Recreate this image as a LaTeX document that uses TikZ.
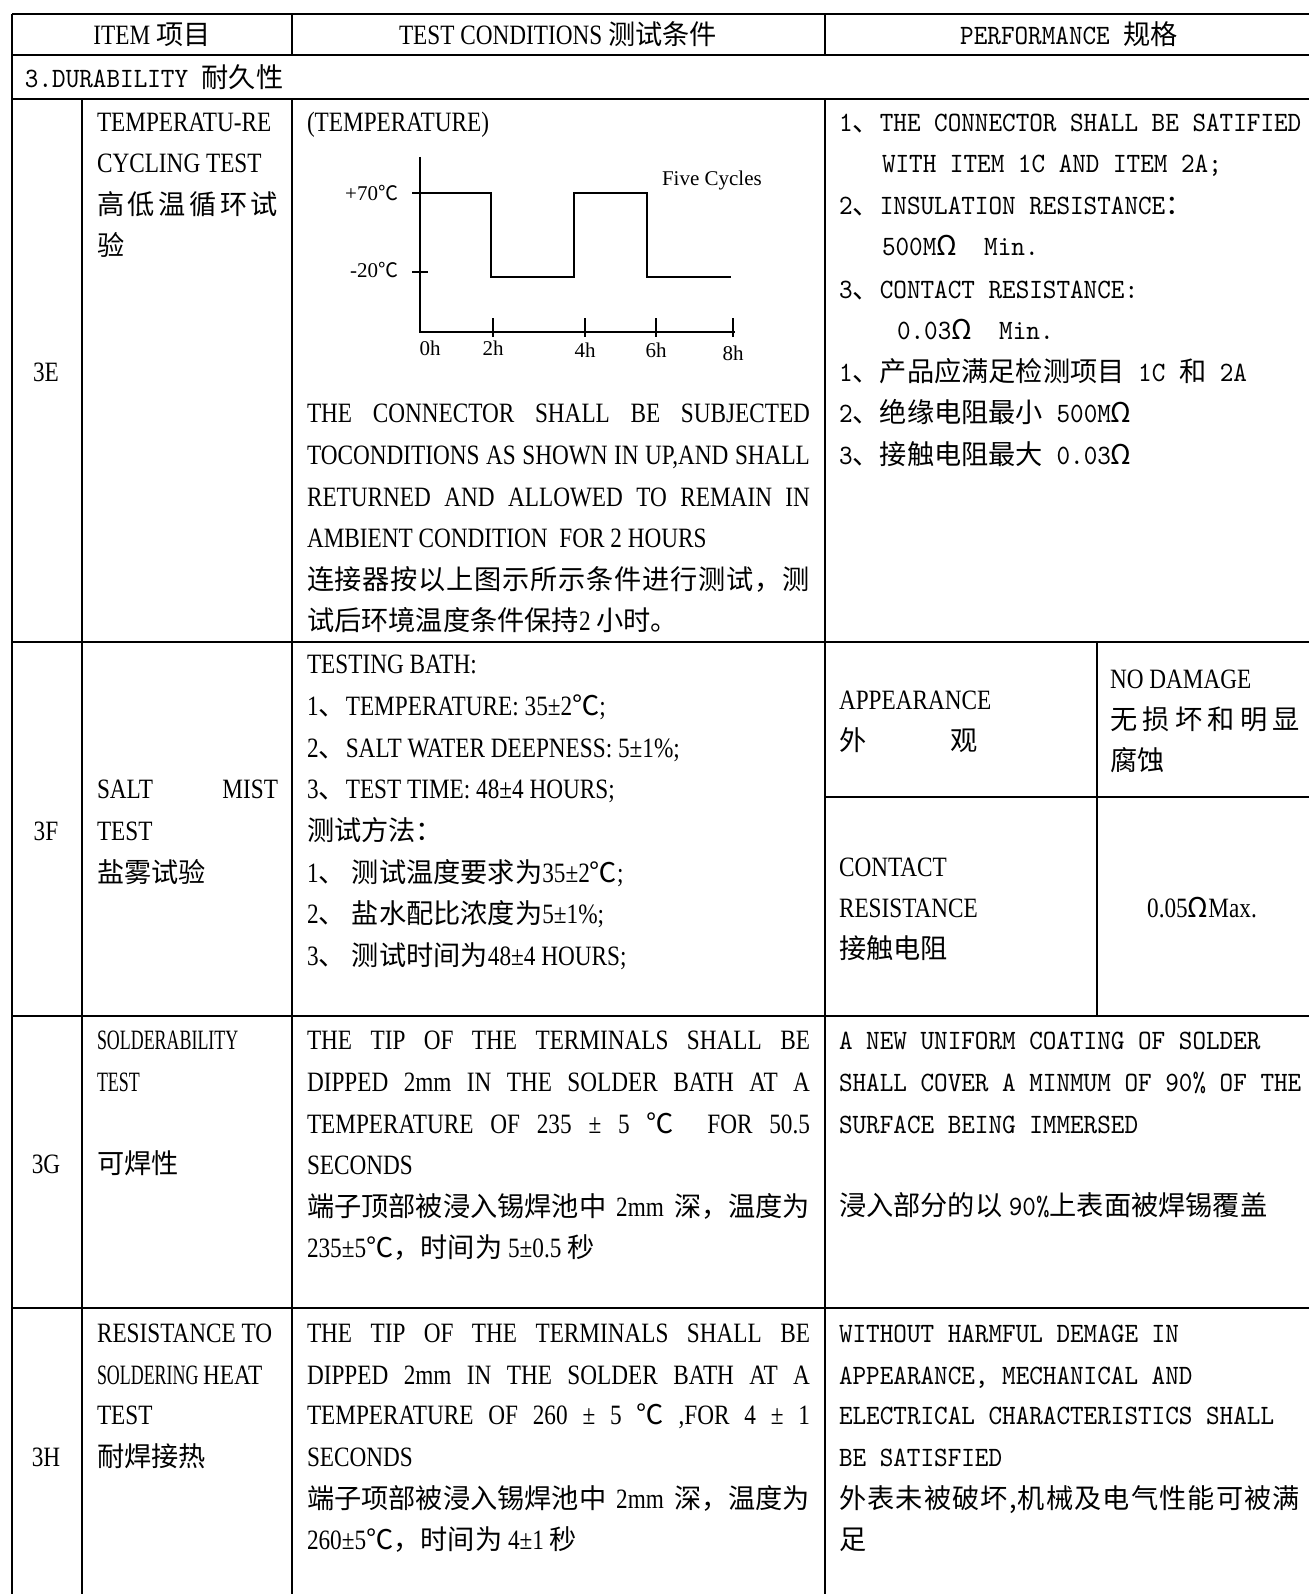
\documentclass[tikz,border=0pt]{standalone}
\usepackage{fontspec}
\newfontfamily\cjk{Noto Sans CJK SC}
\newfontfamily\cnf{Liberation Serif}[FakeStretch=0.83]
\newfontfamily\ucnf{Liberation Serif}[FakeStretch=0.64]
\newfontfamily\mnf{lmmono10-regular.otf}[FakeStretch=0.925]
\newfontfamily\chf{Liberation Serif}
\newcommand\Cn{\cnf\fontsize{14pt}{17pt}\selectfont}
\newcommand\Uc{\ucnf\fontsize{14pt}{17pt}\selectfont}
\newcommand\Mn{\mnf\fontsize{14pt}{17pt}\selectfont}
\newcommand\Ch{\chf\fontsize{10.5pt}{12pt}\selectfont}
\newcommand\zh[1]{{\cjk\fontsize{13.6pt}{17pt}\selectfont #1}}
\newcommand\zhs[1]{{\cjk\fontsize{10pt}{12pt}\selectfont #1}}
\def\sprdB#1{\ifx#1\relax\else\hfil#1\expandafter\sprdB\fi}
\def\sprdA#1{#1\sprdB}
\newcommand\spreadzh[1]{{\cjk\fontsize{13.6pt}{17pt}\selectfont\sprdA#1\relax}}
\newcommand\J[1]{\makebox[251.5pt][s]{#1}}
\begin{document}
\begin{tikzpicture}[x=0.5pt,y=-0.5pt,
  t/.style={anchor=base west,inner sep=0pt,outer sep=0pt},
  tc/.style={anchor=base,inner sep=0pt,outer sep=0pt},
  grid/.style={line width=1.3pt},
  chart/.style={line width=1pt},
  lbl/.style={inner sep=0pt,outer sep=0pt,font=\Ch}]
\useasboundingbox[fill=white] (0,0) rectangle (1308,1594);
% ---------- grid ----------
\foreach \yy in {14,55,99,642,1016,1308} \draw[grid] (12,\yy) -- (1310,\yy);
\draw[grid] (825,797) -- (1310,797);
\draw[grid] (12,14) -- (12,1596);
\draw[grid] (82,99) -- (82,1596);
\draw[grid] (292,14) -- (292,55);
\draw[grid] (292,99) -- (292,1596);
\draw[grid] (825,14) -- (825,55);
\draw[grid] (825,99) -- (825,1596);
\draw[grid] (1097,642) -- (1097,1016);
% ---------- header ----------
\node[tc] (hItem) at (152,45) {\Cn ITEM \zh{项目}};
\node[tc] (hCond) at (558,45) {\Cn TEST CONDITIONS \zh{测试条件}};
\node[tc] (hPerf) at (1069,45) {\Mn PERFORMANCE \zh{规格}};
\node[t] (dur) at (25,88) {\Mn 3.DURABILITY \zh{耐久性}};
% ---------- 3E ----------
\node[tc] (e0) at (46,381) {\Cn 3E};
\node[t] (e1) at (97,132) {\Cn TEMPERATU-RE};
\node[t] (e2) at (97,173) {\Cn CYCLING TEST};
\node[t] (e3) at (97,214) {\makebox[90.5pt][s]{\spreadzh{高低温循环试}}};
\node[t] (e4) at (97,256) {\zh{验}};
\node[t] (ec0) at (307,132) {\Cn (TEMPERATURE)};
% chart
\draw[chart] (420,157) -- (420,332) -- (735,332);
\draw[chart] (412,193) -- (420,193);
\draw[chart] (412,272) -- (428,272);
\draw[chart] (420,193) -| (491,277) -| (574,193) -| (647,277) -- (731,277);
\foreach \xx in {493,585,656,733} \draw[chart] (\xx,318) -- (\xx,337);
\node[lbl,anchor=east] (lt70) at (398,193) {+70\zhs{℃}};
\node[lbl,anchor=east] (lt20) at (398,270) {-20\zhs{℃}};
\node[lbl] (l0) at (430,348) {0h};
\node[lbl] (l2) at (493,348) {2h};
\node[lbl] (l4) at (585,350) {4h};
\node[lbl] (l6) at (656,350) {6h};
\node[lbl] (l8) at (733,353) {8h};
\node[lbl,anchor=west] (l5c) at (662,180) {Five Cycles};
\node[t] (ec1) at (307,422) {\Cn\J{THE CONNECTOR SHALL BE SUBJECTED}};
\node[t] (ec2) at (307,464) {\Cn\J{TOCONDITIONS AS SHOWN IN UP,AND SHALL}};
\node[t] (ec3) at (307,506) {\Cn\J{RETURNED AND ALLOWED TO REMAIN IN}};
\node[t] (ec4) at (307,547) {\Cn AMBIENT CONDITION\ \ FOR 2 HOURS};
\node[t] (ec5) at (307,589) {\J{\spreadzh{连接器按以上图示所示条件进行测试，测}}};
\node[t] (ec6) at (307,630) {\zh{试后环境温度条件保持}{\Cn 2 }\zh{小时。}};
\node[t] (ep1) at (839,132) {\Mn 1\zh{、}THE CONNECTOR SHALL BE SATIFIED};
\node[t] (ep2) at (882,173) {\Mn WITH ITEM 1C AND ITEM 2A;};
\node[t] (ep3) at (839,214) {\Mn 2\zh{、}INSULATION RESISTANCE\zh{：}};
\node[t] (ep4) at (882,256) {\Mn 500M\zh{Ω}\ \ Min.};
\node[t] (ep5) at (839,298) {\Mn 3\zh{、}CONTACT RESISTANCE:};
\node[t] (ep6) at (897,339) {\Mn 0.03\zh{Ω}\ \ Min.};
\node[t] (ep7) at (839,381) {\Mn 1\zh{、产品应满足检测项目} 1C \zh{和} 2A};
\node[t] (ep8) at (839,422) {\Mn 2\zh{、绝缘电阻最小} 500M\zh{Ω}};
\node[t] (ep9) at (839,464) {\Mn 3\zh{、接触电阻最大} 0.03\zh{Ω}};
% ---------- 3F ----------
\node[tc] (f0) at (46,840) {\Cn 3F};
\node[t] (f1) at (97,798) {\Cn\makebox[90.5pt][s]{SALT\hfill MIST}};
\node[t] (f2) at (97,840) {\Cn TEST};
\node[t] (f3) at (97,882) {\zh{盐雾试验}};
\node[t] (fc1) at (307,673) {\Cn TESTING BATH:};
\node[t] (fc2) at (307,715) {\Cn 1\zh{、}TEMPERATURE: 35±2\zh{℃};};
\node[t] (fc3) at (307,757) {\Cn 2\zh{、}SALT WATER DEEPNESS: 5±1\%;};
\node[t] (fc4) at (307,798) {\Cn 3\zh{、}TEST TIME: 48±4 HOURS;};
\node[t] (fc5) at (307,840) {\zh{测试方法：}};
\node[t] (fc6) at (307,882) {\Cn 1\zh{、 测试温度要求为}35±2\zh{℃};};
\node[t] (fc7) at (307,923) {\Cn 2\zh{、 盐水配比浓度为}5±1\%;};
\node[t] (fc8) at (307,965) {\Cn 3\zh{、 测试时间为}48±4 HOURS;};
\node[t] (fa1) at (839,709) {\Cn APPEARANCE};
\node[t] (fa2) at (839,750) {\makebox[69.5pt][s]{\zh{外}\hfill\zh{观}}};
\node[t] (fn1) at (1110,688) {\Cn NO DAMAGE};
\node[t] (fn2) at (1110,729) {\makebox[95pt][s]{\spreadzh{无损坏和明显}}};
\node[t] (fn3) at (1110,770) {\zh{腐蚀}};
\node[t] (fr1) at (839,876) {\Cn CONTACT};
\node[t] (fr2) at (839,917) {\Cn RESISTANCE};
\node[t] (fr3) at (839,958) {\zh{接触电阻}};
\node[tc] (fv) at (1202,917) {\Cn 0.05\zh{Ω}Max.};
% ---------- 3G ----------
\node[tc] (g0) at (46,1173) {\Cn 3G};
\node[t] (g1) at (97,1049) {\Uc SOLDERABILITY};
\node[t] (g2) at (97,1091) {\Uc TEST};
\node[t] (g3) at (97,1173) {\zh{可焊性}};
\node[t] (gc1) at (307,1049) {\Cn\J{THE TIP OF THE TERMINALS SHALL BE}};
\node[t] (gc2) at (307,1091) {\Cn\J{DIPPED 2mm IN THE SOLDER BATH AT A}};
\node[t] (gc3) at (307,1133) {\Cn\J{TEMPERATURE OF 235 ± 5 \zh{℃}\ \ FOR 50.5}};
\node[t] (gc4) at (307,1174) {\Cn SECONDS};
\node[t] (gc5) at (307,1216) {\J{\zh{端子顶部被浸入锡焊池中} {\Cn 2mm} \zh{深，温度为}}};
\node[t] (gc6) at (307,1257) {\Cn 235±5\zh{℃，时间为} 5±0.5 \zh{秒}};
\node[t] (gp1) at (839,1049) {\Mn A NEW UNIFORM COATING OF SOLDER};
\node[t] (gp2) at (839,1091) {\Mn SHALL COVER A MINMUM OF 90\% OF THE};
\node[t] (gp3) at (839,1133) {\Mn SURFACE BEING IMMERSED};
\node[t] (gp4) at (839,1215) {\zh{浸入部分的以} {\Mn 90\%}\zh{上表面被焊锡覆盖}};
% ---------- 3H ----------
\node[tc] (h0) at (46,1466) {\Cn 3H};
\node[t] (h1) at (97,1342) {\Cn RESISTANCE TO};
\node[t] (h2) at (97,1384) {\Uc SOLDERING {\Cn HEAT}};
\node[t] (h3) at (97,1424) {\Cn TEST};
\node[t] (h4) at (97,1466) {\zh{耐焊接热}};
\node[t] (hc1) at (307,1342) {\Cn\J{THE TIP OF THE TERMINALS SHALL BE}};
\node[t] (hc2) at (307,1384) {\Cn\J{DIPPED 2mm IN THE SOLDER BATH AT A}};
\node[t] (hc3) at (307,1424) {\Cn\J{TEMPERATURE OF 260 ± 5 \zh{℃} ,FOR 4 ± 1}};
\node[t] (hc4) at (307,1466) {\Cn SECONDS};
\node[t] (hc5) at (307,1508) {\J{\zh{端子项部被浸入锡焊池中} {\Cn 2mm} \zh{深，温度为}}};
\node[t] (hc6) at (307,1549) {\Cn 260±5\zh{℃，时间为} 4±1 \zh{秒}};
\node[t] (hp1) at (839,1342) {\Mn WITHOUT HARMFUL DEMAGE IN};
\node[t] (hp2) at (839,1384) {\Mn APPEARANCE, MECHANICAL AND};
\node[t] (hp3) at (839,1424) {\Mn ELECTRICAL CHARACTERISTICS SHALL};
\node[t] (hp4) at (839,1466) {\Mn BE SATISFIED};
\node[t] (hp5) at (839,1508) {\makebox[230.5pt][s]{\spreadzh{外表未被破坏,机械及电气性能可被满}}};
\node[t] (hp6) at (839,1549) {\zh{足}};
\end{tikzpicture}
\end{document}
